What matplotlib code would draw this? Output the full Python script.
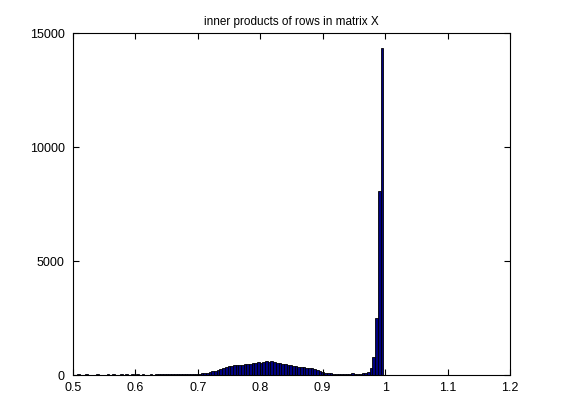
import matplotlib
matplotlib.use("Agg")
import matplotlib.pyplot as plt
import numpy as np

# Histogram bins (left edge of first bin and bin width)
bin_start = 0.5068
bin_width = 0.0043
counts = [
    40, 0, 0, 40, 0, 0, 0, 40, 0, 0,
    0, 40, 0, 40, 0, 0, 40, 0, 40, 0,
    40, 0, 40, 0, 40, 0, 0, 40, 0, 40,
    30, 30, 40, 30, 30, 40, 30, 30, 40, 30,
    30, 40, 30, 40, 50, 60, 70, 90, 100, 130,
    160, 190, 220, 260, 300, 340, 380, 410, 430, 440,
    450, 460, 470, 500, 480, 530, 510, 560, 540, 590,
    620, 580, 600, 560, 540, 510, 480, 470, 440, 420,
    400, 380, 360, 350, 340, 330, 320, 300, 280, 230,
    180, 120, 90, 80, 70, 60, 60, 50, 50, 60,
    60, 50, 70, 60, 50, 60, 80, 100, 150, 290,
    800, 2510, 8080, 14330,
]
title = "inner products of rows in matrix X"
xticks = [0.5, 0.6, 0.7, 0.8, 0.9, 1.0, 1.1, 1.2]
xticklabels = ["0.5", "0.6", "0.7", "0.8", "0.9", "1", "1.1", "1.2"]
yticks = [0, 5000, 10000, 15000]

centers = bin_start + bin_width * (np.arange(len(counts)) + 0.5)

plt.rcParams['font.family'] = ['Liberation Sans', 'DejaVu Sans']
fig = plt.figure(figsize=(5.61, 4.2), dpi=100)
ax = fig.add_axes([0.13, 0.107, 0.779, 0.814])
ax.bar(centers, counts, width=bin_width, color=(0, 0, 0.5),
       edgecolor='black', linewidth=0.6, align='center')
ax.set_xlim(0.5, 1.2)
ax.set_ylim(0, 15000)
ax.set_xticks(xticks)
ax.set_xticklabels(xticklabels)
ax.set_yticks(yticks)
ax.tick_params(direction='in', top=True, right=True, labelsize=9, length=4)
ax.tick_params(axis='x', pad=5)
ax.tick_params(axis='y', pad=6)
ax.set_title(title, fontsize=8.5)
for s in ax.spines.values():
    s.set_linewidth(0.8)
fig.savefig("out.png", dpi=100)
